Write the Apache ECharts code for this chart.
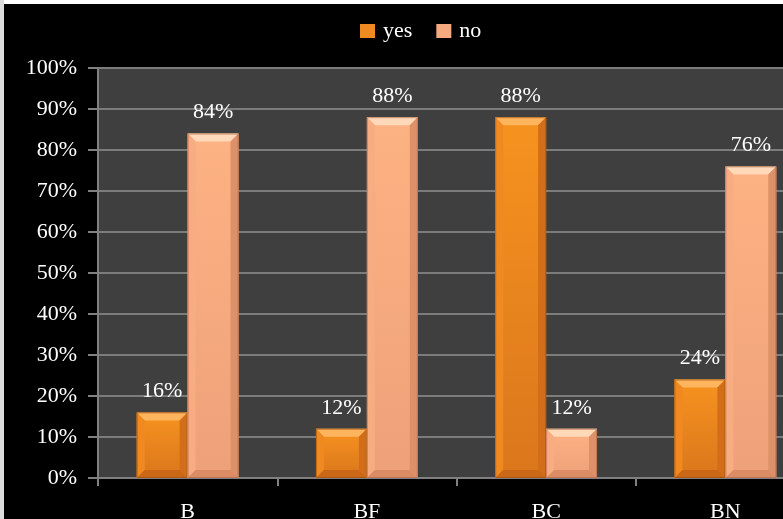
<!DOCTYPE html>
<html>
<head>
<meta charset="utf-8">
<script src="https://cdn.jsdelivr.net/npm/echarts@6/dist/echarts.min.js"></script>
<style>
  html, body { margin: 0; padding: 0; background: #000; overflow: hidden; width: 783px; height: 519px; }
  #chart { width: 840px; height: 519px; }
</style>
</head>
<body>
<div id="chart"></div>
<script>
// Chart data
const categories = ['B', 'BF', 'BC', 'BN'];
const yesValues = [16, 12, 88, 24];
const noValues = [84, 88, 12, 76];
const seriesNames = ['yes', 'no'];
const yTickValues = [0, 10, 20, 30, 40, 50, 60, 70, 80, 90, 100];

const SERIF = "'Liberation Serif', 'Times New Roman', serif";

// Shading used for the bevelled bars
const palettes = {
  yes: { top: '#F6931F', bottom: '#DB761C', light: '#FFB45E', edgeL: '#F08A20', edgeR: '#D26D19', edgeB: '#CB6818', border: '#9E500F' },
  no:  { top: '#FDB283', bottom: '#EEA179', light: '#FFD9BA', edgeL: '#F7AC82', edgeR: '#DE9068', edgeB: '#DB8C64', border: '#A96849' }
};

function poly(points, fill) {
  return { type: 'polygon', shape: { points: points }, style: { fill: fill }, silent: true };
}

// Draws one bevelled bar plus its value label, positioned through the category/value axes
function bevelRenderer(pal, slot) {
  return function (params, api) {
    const ci = api.value(0);
    const v = api.value(1);
    const base = api.coord([ci, 0]);
    const topPt = api.coord([ci, v]);
    const band = api.size([1, 0])[0];
    const w = band * 0.284;
    const x0 = base[0] + (slot === 0 ? -w : 0);
    const x1 = x0 + w;
    const y0 = topPt[1];
    const y1 = base[1];
    const b = Math.min(8, (y1 - y0) / 2, w / 2);
    const body = {
      type: 'linear', x: 0, y: 0, x2: 0, y2: 1,
      colorStops: [{ offset: 0, color: pal.top }, { offset: 1, color: pal.bottom }]
    };
    return {
      type: 'group',
      children: [
        { type: 'rect', shape: { x: x0, y: y0, width: w, height: y1 - y0 }, style: { fill: body } },
        poly([[x0, y0], [x1, y0], [x1 - b, y0 + b], [x0 + b, y0 + b]], pal.light),
        poly([[x0, y0], [x0 + b, y0 + b], [x0 + b, y1 - b], [x0, y1]], pal.edgeL),
        poly([[x1, y0], [x1, y1], [x1 - b, y1 - b], [x1 - b, y0 + b]], pal.edgeR),
        poly([[x0, y1], [x1, y1], [x1 - b, y1 - b], [x0 + b, y1 - b]], pal.edgeB),
        { type: 'rect', shape: { x: x0 + 0.5, y: y0 + 0.5, width: w - 1, height: y1 - y0 - 1 },
          style: { fill: null, stroke: pal.border, lineWidth: 1, opacity: 0.6 }, silent: true },
        { type: 'text', x: (x0 + x1) / 2, y: y0 - 10,
          style: { text: v + '%', fill: '#ffffff', font: '22px ' + SERIF, align: 'center', verticalAlign: 'bottom' } }
      ]
    };
  };
}

const chart = echarts.init(document.getElementById('chart'), null, { renderer: 'canvas' });

chart.setOption({
  backgroundColor: '#000000',
  animation: false,
  graphic: [
    { type: 'rect', left: 0, top: 0, shape: { width: 840, height: 4 }, style: { fill: '#ffffff' }, z: 100 },
    { type: 'rect', left: 0, top: 0, shape: { width: 4, height: 519 }, style: { fill: '#dcdcdc' }, z: 100 }
  ],
  legend: {
    left: 360,
    top: 20,
    padding: 0,
    itemWidth: 15,
    itemHeight: 14,
    itemGap: 24,
    icon: 'rect',
    data: seriesNames,
    textStyle: { color: '#ffffff', fontFamily: SERIF, fontSize: 22, padding: [0, 0, 0, 3] }
  },
  grid: {
    left: 98,
    right: 25,
    top: 68,
    bottom: 41,
    outerBoundsMode: 'none',
    containLabel: false,
    show: true,
    backgroundColor: '#3f3f3f',
    borderWidth: 0
  },
  xAxis: {
    type: 'category',
    data: categories,
    axisLine: { lineStyle: { color: '#808080', width: 2 } },
    axisTick: { show: true, length: 8, lineStyle: { color: '#808080', width: 2 } },
    axisLabel: { color: '#ffffff', fontFamily: SERIF, fontSize: 22, margin: 23 },
    splitLine: { show: false }
  },
  yAxis: {
    type: 'value',
    min: yTickValues[0],
    max: yTickValues[yTickValues.length - 1],
    interval: yTickValues[1] - yTickValues[0],
    axisLine: { show: true, lineStyle: { color: '#808080', width: 2 } },
    axisTick: { show: true, length: 10, lineStyle: { color: '#808080', width: 2 } },
    axisLabel: { color: '#ffffff', fontFamily: SERIF, fontSize: 22, margin: 21, formatter: '{value}%' },
    splitLine: { show: true, lineStyle: { color: '#7c7c7c', width: 2 } }
  },
  series: [
    {
      name: 'yes',
      type: 'custom',
      itemStyle: { color: '#EE8A22' },
      encode: { x: 0, y: 1 },
      data: categories.map((c, i) => [i, yesValues[i]]),
      renderItem: bevelRenderer(palettes.yes, 0),
      z: 3
    },
    {
      name: 'no',
      type: 'custom',
      itemStyle: { color: '#F5A97E' },
      encode: { x: 0, y: 1 },
      data: categories.map((c, i) => [i, noValues[i]]),
      renderItem: bevelRenderer(palettes.no, 1),
      z: 3
    }
  ]
});
</script>
</body>
</html>
